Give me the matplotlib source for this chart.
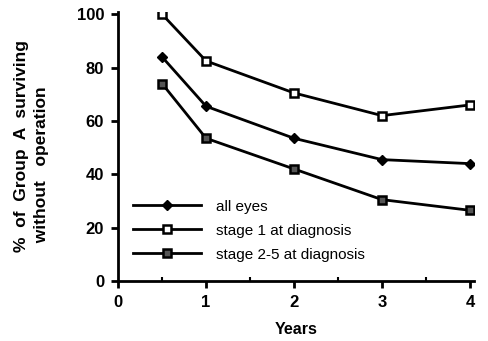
import matplotlib
matplotlib.use("Agg")
import matplotlib.pyplot as plt
from matplotlib.ticker import MultipleLocator

years = [0.5, 1, 2, 3, 4]
all_eyes = [84, 65.5, 53.5, 45.5, 44]
stage1 = [100, 82.5, 70.5, 62, 66]
stage25 = [74, 53.5, 42, 30.5, 26.5]
series_labels = ["all eyes", "stage 1 at diagnosis", "stage 2-5 at diagnosis"]
x_ticks = [0, 1, 2, 3, 4]
y_ticks = [0, 20, 40, 60, 80, 100]

plt.rcParams['font.family'] = ['Liberation Sans', 'DejaVu Sans']

fig = plt.figure(figsize=(4.88, 3.41), dpi=100)
ax = fig.add_axes([0.242, 0.176, 0.73, 0.79])

ax.plot(years, all_eyes, color="black", lw=2, marker="D", ms=5,
        mfc="black", mec="black", label=series_labels[0])
ax.plot(years, stage1, color="black", lw=2, marker="s", ms=5.5,
        mfc="white", mec="black", mew=1.8, label=series_labels[1])
ax.plot(years, stage25, color="black", lw=2, marker="s", ms=5.5,
        mfc="#555555", mec="black", mew=1.8, label=series_labels[2])

ax.set_xlim(0, 4.05)
ax.set_ylim(0, 101)
ax.set_xticks(x_ticks)
ax.set_yticks(y_ticks)
ax.xaxis.set_minor_locator(MultipleLocator(0.5))

for side in ("top", "right"):
    ax.spines[side].set_visible(False)
for side in ("left", "bottom"):
    ax.spines[side].set_linewidth(2)

ax.tick_params(axis="both", which="major", direction="out", length=5, width=2,
               labelsize=12, pad=5)
ax.tick_params(axis="x", which="minor", direction="in", length=3, width=1.5)
for lab in ax.get_xticklabels() + ax.get_yticklabels():
    lab.set_fontweight("bold")

ax.set_xlabel("Years", fontsize=11.5, fontweight="bold", labelpad=9)
ax.set_ylabel("%  of  Group  A  surviving\n  without   operation", fontsize=12.5,
              fontweight="bold", labelpad=20, linespacing=1.45,
              multialignment="left")

ax.legend(loc="lower left", bbox_to_anchor=(0.0, 0.015), frameon=False,
          handlelength=4.4, handletextpad=1.0, labelspacing=0.65, fontsize=11,
          borderaxespad=0.6)

fig.savefig("out.png", dpi=100)
